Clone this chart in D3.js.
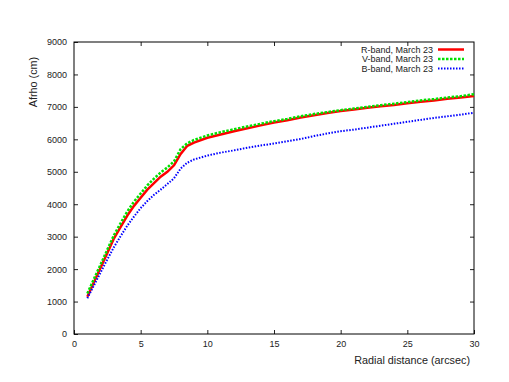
<!DOCTYPE html>
<html>
  <head>
    <meta charset="utf-8">
    <title>Afrho profile</title>
    <script src="https://d3js.org/d3.v7.min.js"></script>
    <style>
      body { margin: 0; background: #fff; }
      text { font-family: "Liberation Sans", Arial, sans-serif; }
    </style>
  </head>
  <body>
    <div id="chart"></div>
    <script>
      // radial distance (arcsec)
      var radius = [1, 1.5, 2, 2.5, 3, 3.5, 4, 4.5, 5, 5.5, 6, 6.5, 7, 7.5, 8, 8.5, 9,
                    10, 11, 12, 13, 14, 15, 16, 17, 18, 19, 20, 21, 22, 23, 24, 25, 26, 27, 28, 29, 30];
      var rBand = [1150, 1600, 2050, 2500, 2950, 3300, 3650, 3950, 4200, 4450, 4650, 4850, 5000, 5200, 5550, 5800, 5900,
                   6050, 6150, 6250, 6340, 6430, 6520, 6590, 6670, 6740, 6810, 6870, 6920, 6970, 7020, 7060, 7110, 7160, 7200, 7250, 7290, 7335];
      var vBand = [1250, 1700, 2150, 2600, 3050, 3420, 3780, 4080, 4330, 4580, 4790, 4980, 5130, 5320, 5700, 5880, 5980,
                   6120, 6220, 6310, 6400, 6480, 6560, 6630, 6710, 6780, 6840, 6900, 6950, 7000, 7050, 7100, 7150, 7200, 7240, 7290, 7330, 7390];
      var bBand = [1100, 1500, 1900, 2300, 2680, 3020, 3340, 3620, 3880, 4100, 4290, 4450, 4620, 4800, 5100, 5280, 5380,
                   5500, 5590, 5660, 5740, 5810, 5870, 5940, 6010, 6100, 6180, 6250, 6300, 6360, 6420, 6480, 6540, 6600, 6660, 6710, 6760, 6820];
      var xTicks = [0, 5, 10, 15, 20, 25, 30];
      var yTicks = [0, 1000, 2000, 3000, 4000, 5000, 6000, 7000, 8000, 9000];

      var series = [
        {name: "R-band, March 23", values: rBand, color: "#ff0000", width: 2.5, dash: null},
        {name: "V-band, March 23", values: vBand, color: "#00e000", width: 2.5, dash: "2.5,1.5"},
        {name: "B-band, March 23", values: bBand, color: "#0000ff", width: 2, dash: "1.5,1.5"}
      ];

      var width = 509, height = 382;
      var margin = {left: 74, right: 35, top: 42, bottom: 48};
      var svg = d3.select("#chart").append("svg")
          .attr("width", width).attr("height", height);

      var x = d3.scaleLinear().domain([0, 30]).range([margin.left, width - margin.right]);
      var y = d3.scaleLinear().domain([0, 9000]).range([height - margin.bottom, margin.top]);

      var tickLen = 4;
      var axisColor = "#222";
      var fmt = d3.format("d");

      // bottom / top ticks
      svg.append("g").attr("transform", "translate(0," + y(0) + ")")
        .call(d3.axisBottom(x).tickValues(xTicks).tickFormat(fmt).tickSize(-tickLen).tickPadding(7))
        .call(function (g) { g.select(".domain").remove(); });
      svg.append("g").attr("transform", "translate(0," + y(9000) + ")")
        .call(d3.axisTop(x).tickValues(xTicks.slice(1, -1)).tickSize(-tickLen).tickFormat(""))
        .call(function (g) { g.select(".domain").remove(); });
      // left / right ticks
      svg.append("g").attr("transform", "translate(" + x(0) + ",0)")
        .call(d3.axisLeft(y).tickValues(yTicks).tickFormat(fmt).tickSize(-tickLen).tickPadding(7))
        .call(function (g) { g.select(".domain").remove(); });
      svg.append("g").attr("transform", "translate(" + x(30) + ",0)")
        .call(d3.axisRight(y).tickValues(yTicks.slice(1, -1)).tickSize(-tickLen).tickFormat(""))
        .call(function (g) { g.select(".domain").remove(); });

      svg.selectAll(".tick line").attr("stroke", axisColor);
      svg.selectAll(".tick text").attr("fill", "#222").style("font-size", "9px")
        .style("font-family", "'Liberation Sans', Arial, sans-serif");

      // frame
      svg.append("rect")
        .attr("x", x(0)).attr("y", y(9000))
        .attr("width", x(30) - x(0)).attr("height", y(0) - y(9000))
        .attr("fill", "none").attr("stroke", "#000").attr("stroke-width", 1);

      var line = d3.line()
        .x(function (d) { return x(d[0]); })
        .y(function (d) { return y(d[1]); });

      series.forEach(function (s) {
        svg.append("path")
          .datum(radius.map(function (r, i) { return [r, s.values[i]]; }))
          .attr("fill", "none")
          .attr("stroke", s.color)
          .attr("stroke-width", s.width)
          .attr("stroke-dasharray", s.dash)
          .attr("d", line);
      });

      // legend
      var legend = svg.append("g");
      series.forEach(function (s, i) {
        var ly = 49.5 + i * 9.5;
        legend.append("text")
          .attr("x", 433).attr("y", ly).attr("dy", "0.35em")
          .attr("text-anchor", "end")
          .style("font-size", "9px").attr("fill", "#222")
          .text(s.name);
        legend.append("line")
          .attr("x1", 438).attr("x2", 464).attr("y1", ly).attr("y2", ly)
          .attr("stroke", s.color).attr("stroke-width", s.width)
          .attr("stroke-dasharray", s.dash);
      });

      // axis titles
      svg.append("text")
        .attr("x", 470).attr("y", 360).attr("dy", "0.35em")
        .attr("text-anchor", "end")
        .style("font-size", "10.8px").attr("fill", "#222")
        .text("Radial distance (arcsec)");
      svg.append("text")
        .attr("transform", "translate(33,82) rotate(-90)")
        .attr("dy", "0.35em")
        .attr("text-anchor", "middle")
        .style("font-size", "10.8px").attr("fill", "#222")
        .text("Afrho (cm)");
    </script>
  </body>
</html>
